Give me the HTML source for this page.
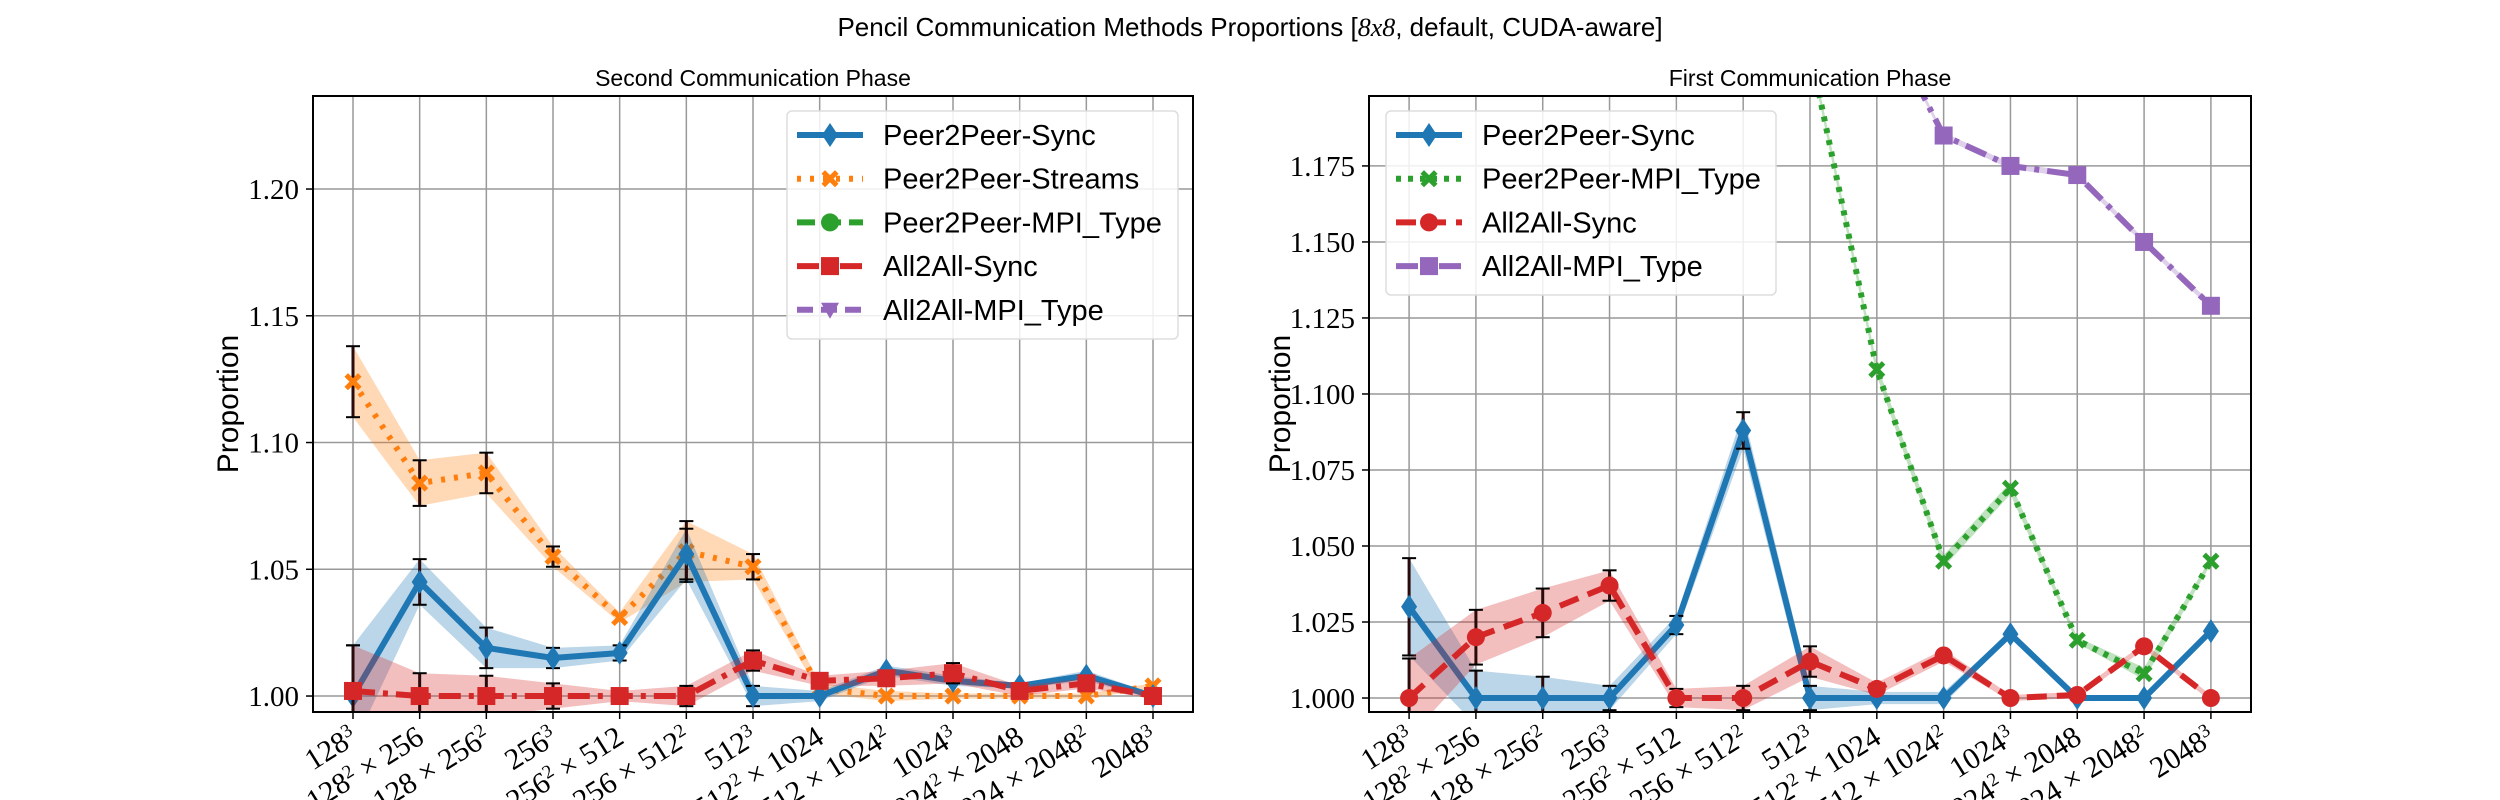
<!DOCTYPE html>
<html><head><meta charset="utf-8">
<style>
html,body{margin:0;padding:0;background:#fff;}
svg{display:block;}
text{font-family:"Liberation Serif",serif;}
.sans{font-family:"Liberation Sans",sans-serif;}
</style></head>
<body>
<svg id="chart" width="2500" height="800" xmlns="http://www.w3.org/2000/svg">
<text class="sans" x="1250" y="36" font-size="26" text-anchor="middle">Pencil Communication Methods Proportions [<tspan font-family="Liberation Serif" font-style="italic">8x8</tspan>, default, CUDA-aware]</text>
</svg>
<script>
const categories = ["128|3","128|2| × 256","128 × 256|2","256|3","256|2| × 512","256 × 512|2","512|3","512|2| × 1024","512 × 1024|2","1024|3","1024|2| × 2048","1024 × 2048|2","2048|3"];

// Left panel: Second Communication Phase
const leftP2PSync = [1.000,1.045,1.019,1.015,1.017,1.056,1.000,1.000,1.010,1.006,1.004,1.008,1.000];
const leftP2PSyncErr = [0.020,0.009,0.008,0.004,0.003,0.010,0.004,0.002,0.002,0.002,0.001,0.002,0.001];
const leftP2PStreams = [1.124,1.084,1.088,1.055,1.031,1.057,1.051,1.003,1.000,1.000,1.000,1.000,1.004];
const leftP2PStreamsErr = [0.014,0.009,0.008,0.004,0.002,0.012,0.005,0.002,0.002,0.001,0.001,0.001,0.001];
const leftA2ASync = [1.002,1.000,1.000,1.000,1.000,1.000,1.014,1.006,1.007,1.009,1.002,1.005,1.000];
const leftA2ASyncErr = [0.018,0.009,0.008,0.005,0.002,0.004,0.004,0.002,0.003,0.004,0.002,0.002,0.001];
const leftYTicks = [1.00,1.05,1.10,1.15,1.20];
const leftYTickLabels = ["1.00","1.05","1.10","1.15","1.20"];

// Right panel: First Communication Phase
const rightP2PSync = [1.030,1.000,1.000,1.000,1.024,1.088,1.000,1.000,1.000,1.021,1.000,1.000,1.022];
const rightP2PSyncErr = [0.016,0.009,0.007,0.004,0.003,0.006,0.004,0.002,0.002,0.001,0.001,0.001,0.001];
const rightP2PMpi = [1.35,1.35,1.33,1.30,1.28,1.25,1.213,1.108,1.045,1.069,1.019,1.008,1.045];
const rightP2PMpiErr = [0.002,0.002,0.002,0.002,0.002,0.002,0.002,0.002,0.002,0.002,0.001,0.002,0.001];
const rightA2ASync = [1.000,1.020,1.028,1.037,1.000,1.000,1.012,1.003,1.014,1.000,1.001,1.017,1.000];
const rightA2ASyncErr = [0.013,0.009,0.008,0.005,0.003,0.004,0.005,0.002,0.002,0.001,0.001,0.001,0.001];
const rightA2AMpi = [1.35,1.34,1.33,1.31,1.29,1.27,1.25,1.228,1.185,1.175,1.172,1.150,1.129];
const rightA2AMpiErr = [0.001,0.001,0.001,0.001,0.001,0.001,0.001,0.001,0.001,0.001,0.001,0.001,0.001];
const rightYTicks = [1.000,1.025,1.050,1.075,1.100,1.125,1.150,1.175];
const rightYTickLabels = ["1.000","1.025","1.050","1.075","1.100","1.125","1.150","1.175"];

const NS="http://www.w3.org/2000/svg";
const svg=document.getElementById('chart');
function mk(tag,attrs,parent){const e=document.createElementNS(NS,tag);for(const k in attrs)e.setAttribute(k,attrs[k]);(parent||svg).appendChild(e);return e;}

function panel(cfg){
  const {L,R,T,B,ymin,ymax,title,id}=cfg;
  const n=categories.length;
  const step=(R-L)/(n-1+1.2);
  const xs=i=>L+step*(0.6+i);
  const ys=v=>B-(v-ymin)/(ymax-ymin)*(B-T);
  const g=mk('g',{});
  
  
  const clipId=id+'-clip';
  const cp=mk('clipPath',{id:clipId},g);mk('rect',{x:L,y:T,width:R-L,height:B-T},cp);
  const t=mk('text',{x:(L+R)/2,y:T-10,'font-size':23,'text-anchor':'middle',class:'sans'},g);t.textContent=title;
  
  
  cfg.yticks.forEach((v,i)=>{
    const y=ys(v);
    mk('line',{x1:L,x2:R,y1:y,y2:y,stroke:'#999','stroke-width':1.5},g);
    mk('line',{x1:L-7,x2:L,y1:y,y2:y,stroke:'#000','stroke-width':1.5},g);
    const tl=mk('text',{x:L-14,y:y+10,'font-size':29,'text-anchor':'end'},g);tl.textContent=cfg.ylabels[i];
    
    
  });
  categories.forEach((c,i)=>{
    const x=xs(i);
    mk('line',{x1:x,x2:x,y1:T,y2:B,stroke:'#999','stroke-width':1.5},g);
    mk('line',{x1:x,x2:x,y1:B,y2:B+7,stroke:'#000','stroke-width':1.5},g);
    const tx=mk('text',{x:x+6,y:B+30,'font-size':30,'text-anchor':'end',transform:`rotate(-32 ${x+6} ${B+30})`},g);
    
    
    c.split('|').forEach((p,j)=>{const ts=mk('tspan',{},tx);if(j%2==1){ts.setAttribute('baseline-shift','super');ts.setAttribute('font-size',19);}ts.textContent=p;});
  });
  const yl=mk('text',{x:cfg.ylabX,y:(T+B)/2,'font-size':30,'text-anchor':'middle',class:'sans',transform:`rotate(-90 ${cfg.ylabX} ${(T+B)/2})`},g);
  yl.textContent='Proportion';
  
  
  const pg=mk('g',{'clip-path':`url(#${clipId})`},g);
  cfg.series.forEach(s=>{
    const sg=mk('g',{},pg);
    
    
    let up='',dn='';
    s.vals.forEach((v,i)=>{up+=(i?'L':'M')+xs(i)+','+ys(v+s.err[i]);});
    for(let i=s.vals.length-1;i>=0;i--)dn+='L'+xs(i)+','+ys(s.vals[i]-s.err[i]);
    mk('path',{d:up+dn+'Z',fill:s.color,'fill-opacity':0.3,stroke:'none'},sg);
    let d='';s.vals.forEach((v,i)=>{d+=(i?'L':'M')+xs(i)+','+ys(v);});
    mk('path',{d,fill:'none',stroke:s.color,'stroke-width':6,'stroke-dasharray':s.dash||'none'},sg);
    s.vals.forEach((v,i)=>{
      const x=xs(i),y=ys(v),e1=ys(v+s.err[i]),e2=ys(v-s.err[i]);
      if(s.err[i]>0.002){
        mk('line',{x1:x,x2:x,y1:e1,y2:e2,stroke:'#2a0a0a','stroke-width':3},sg);
        mk('line',{x1:x-7,x2:x+7,y1:e1,y2:e1,stroke:'#000','stroke-width':2},sg);
        mk('line',{x1:x-7,x2:x+7,y1:e2,y2:e2,stroke:'#000','stroke-width':2},sg);
      }
      marker(sg,s.marker,x,y,s.color);
    });
  });
  mk('rect',{x:L,y:T,width:R-L,height:B-T,fill:'none',stroke:'#000','stroke-width':2},g);
  const lg=mk('g',{},g);
  
  
  const Lg=cfg.legend;
  mk('rect',{x:Lg.x,y:Lg.y,width:Lg.w,height:Lg.h,rx:5,fill:'#fff','fill-opacity':0.85,stroke:'#ddd','stroke-width':1.5},lg);
  Lg.items.forEach((it,i)=>{
    const y=Lg.y+24+i*43.7;
    const eg=mk('g',{},lg);
    
    
    mk('line',{x1:Lg.x+10,x2:Lg.x+76,y1:y,y2:y,stroke:it.color,'stroke-width':6,'stroke-dasharray':it.dash||'none'},eg);
    marker(eg,it.marker,Lg.x+43,y,it.color);
    const tt=mk('text',{x:Lg.x+96,y:y+10,'font-size':29,class:'sans'},eg);tt.textContent=it.label;
  });
}
function marker(p,m,x,y,c){
  if(m==='D')mk('polygon',{points:`${x},${y-12} ${x+8},${y} ${x},${y+12} ${x-8},${y}`,fill:c},p);
  else if(m==='X'){mk('path',{d:`M${x-5},${y-5}L${x+5},${y+5}M${x+5},${y-5}L${x-5},${y+5}`,stroke:c,'stroke-width':5,'stroke-linecap':'square'},p);}
  else if(m==='o')mk('circle',{cx:x,cy:y,r:9,fill:c},p);
  else if(m==='s')mk('rect',{x:x-9,y:y-9,width:18,height:18,fill:c},p);
  else if(m==='v')mk('polygon',{points:`${x-9},${y-7} ${x+9},${y-7} ${x},${y+9}`,fill:c},p);
}
const C={b:'#1f77b4',o:'#ff7f0e',g:'#2ca02c',r:'#d62728',p:'#9467bd'};
panel({id:'second-phase',L:313,R:1193,T:96,B:712,ymin:0.9937,ymax:1.2367,title:'Second Communication Phase',ylabX:238,
  yticks:leftYTicks,ylabels:leftYTickLabels,
  series:[
    {name:'series-p2p-streams',vals:leftP2PStreams,err:leftP2PStreamsErr,color:C.o,dash:'4 9',marker:'X'},
    {name:'series-p2p-sync',vals:leftP2PSync,err:leftP2PSyncErr,color:C.b,marker:'D'},
    {name:'series-a2a-sync',vals:leftA2ASync,err:leftA2ASyncErr,color:C.r,dash:'22 8 5 8',marker:'s'}],
  legend:{x:787,y:111,w:391,h:228,items:[
    {label:'Peer2Peer-Sync',color:C.b,marker:'D'},
    {label:'Peer2Peer-Streams',color:C.o,dash:'4 9',marker:'X'},
    {label:'Peer2Peer-MPI_Type',color:C.g,dash:'18 8',marker:'o'},
    {label:'All2All-Sync',color:C.r,dash:'22 8 5 8',marker:'s'},
    {label:'All2All-MPI_Type',color:C.p,dash:'16 8',marker:'v'}]}
});
panel({id:'first-phase',L:1369,R:2251,T:96,B:712,ymin:0.9954,ymax:1.198,title:'First Communication Phase',ylabX:1290,
  yticks:rightYTicks,ylabels:rightYTickLabels,
  series:[
    {name:'series-a2a-mpi-type',vals:rightA2AMpi,err:rightA2AMpiErr,color:C.p,dash:'22 8 5 8',marker:'s'},
    {name:'series-p2p-mpi-type',vals:rightP2PMpi,err:rightP2PMpiErr,color:C.g,dash:'5 7',marker:'X'},
    {name:'series-p2p-sync',vals:rightP2PSync,err:rightP2PSyncErr,color:C.b,marker:'D'},
    {name:'series-a2a-sync',vals:rightA2ASync,err:rightA2ASyncErr,color:C.r,dash:'20 10',marker:'o'}],
  legend:{x:1386,y:111,w:390,h:184,items:[
    {label:'Peer2Peer-Sync',color:C.b,marker:'D'},
    {label:'Peer2Peer-MPI_Type',color:C.g,dash:'5 7',marker:'X'},
    {label:'All2All-Sync',color:C.r,dash:'20 10',marker:'o'},
    {label:'All2All-MPI_Type',color:C.p,dash:'22 8 5 8',marker:'s'}]}
});
</script>
</body></html>
